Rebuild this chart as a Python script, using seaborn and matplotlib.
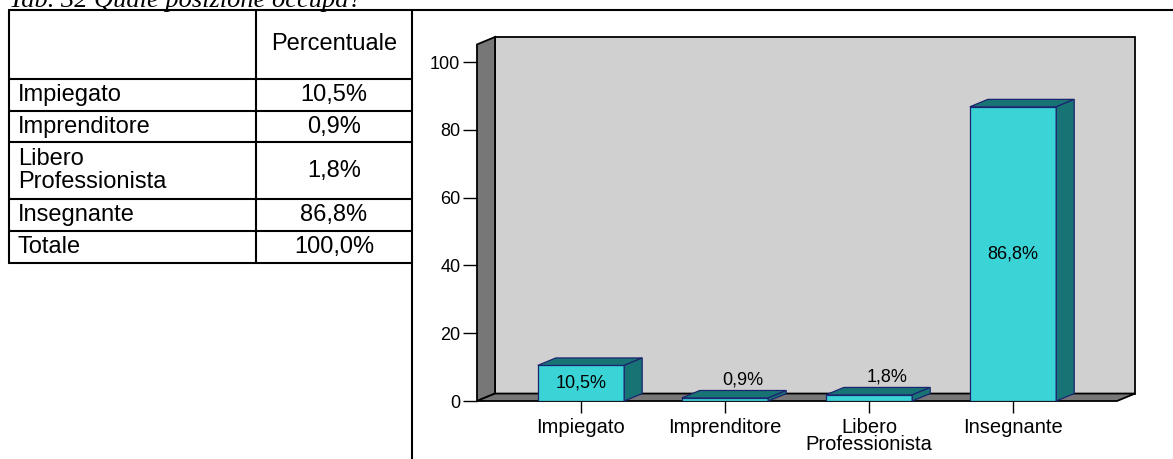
import matplotlib

matplotlib.use("Agg")
import matplotlib.pyplot as plt
from matplotlib.patches import Polygon, Rectangle
import seaborn as sns

# --- data ---
TITLE = "Tab. 32 Quale posizione occupa?"
HEADER = "Percentuale"
categories = ["Impiegato", "Imprenditore", "Libero\nProfessionista", "Insegnante"]
percentages = [10.5, 0.9, 1.8, 86.8]
total_label = "Totale"
y_ticks = [0, 20, 40, 60, 80, 100]

# --- colours ---
FRONT = "#3bd4d6"
SIDE = "#187474"
EDGE = "#1c2470"
BACK_WALL = "#d0d0d0"
WALL = "#777777"

FIG_W, FIG_H = 1173, 459


def fmt_pct(v):
    return f"{v:.1f}%".replace(".", ",")


def px_rect(left, top, right, bottom):
    return [left / FIG_W, 1 - bottom / FIG_H, (right - left) / FIG_W, (bottom - top) / FIG_H]


sns.set_style("white")
plt.rcParams["font.family"] = ["Liberation Sans", "DejaVu Sans"]
plt.rcParams["text.color"] = "black"
plt.rcParams["xtick.color"] = "black"
plt.rcParams["ytick.color"] = "black"
plt.rcParams["axes.labelcolor"] = "black"

fig = plt.figure(figsize=(FIG_W / 100, FIG_H / 100), dpi=100)

# ---------------- table (pixel coordinates) ----------------
tab = fig.add_axes([0, 0, 1, 1])
tab.set_xlim(0, FIG_W)
tab.set_ylim(FIG_H, 0)
tab.axis("off")

tab.text(9, 6.5, TITLE, family="Liberation Serif", style="italic", fontsize=19, va="baseline")

row_edges = [10, 79, 111, 142, 199, 231, 263]
col_edges = [9, 256, 412]
lw = 1.5
tab.plot([col_edges[0], FIG_W], [row_edges[0]] * 2, color="black", lw=lw)
for y in row_edges[1:]:
    tab.plot([col_edges[0], col_edges[2]], [y, y], color="black", lw=lw)
tab.plot([col_edges[0]] * 2, [row_edges[0], row_edges[-1]], color="black", lw=lw)
tab.plot([col_edges[1]] * 2, [row_edges[0], row_edges[-1]], color="black", lw=lw)
tab.plot([col_edges[2]] * 2, [row_edges[0], FIG_H], color="black", lw=lw)

val_x = (col_edges[1] + col_edges[2]) / 2
tab.text(val_x, (row_edges[0] + row_edges[1]) / 2, HEADER, fontsize=17, ha="center", va="center")
row_labels = categories + [total_label]
row_values = percentages + [round(sum(percentages), 1)]
for i, (lab, val) in enumerate(zip(row_labels, row_values)):
    yc = (row_edges[i + 1] + row_edges[i + 2]) / 2
    tab.text(18, yc, lab, fontsize=17, ha="left", va="center", linespacing=1.1)
    tab.text(val_x, yc, fmt_pct(val), fontsize=17, ha="center", va="center")

# ---------------- 3D-look bar chart ----------------
ax = fig.add_axes(px_rect(477, 37, 1135, 401))
XL, XR, YTOP = -0.722, 3.847, 107.4
DX, DY = 0.125, 2.2

sns.barplot(x=categories, y=percentages, color=FRONT, saturation=1, width=0.6,
            edgecolor=EDGE, linewidth=0.9, ax=ax, zorder=3)

ax.set_facecolor("none")
for s in ax.spines.values():
    s.set_visible(False)

# walls and floor
ax.add_patch(Rectangle((XL + DX, DY), XR - XL - DX, YTOP - DY, facecolor=BACK_WALL,
                       edgecolor="black", lw=1.3, zorder=0.1, clip_on=False))
ax.add_patch(Polygon([(XL, 0), (XL + DX, DY), (XL + DX, YTOP), (XL, YTOP - DY)],
                     facecolor=WALL, edgecolor="black", lw=1.3, zorder=0.2, clip_on=False))
ax.add_patch(Polygon([(XL, 0), (XR - DX, 0), (XR, DY), (XL + DX, DY)],
                     facecolor=WALL, edgecolor="black", lw=1.3, zorder=0.2, clip_on=False))

for bar, val in zip(ax.patches[:len(percentages)], percentages):
    x0 = bar.get_x()
    x1 = x0 + bar.get_width()
    h = bar.get_height()
    ax.add_patch(Polygon([(x0, h), (x0 + DX, h + DY), (x1 + DX, h + DY), (x1, h)],
                         facecolor=SIDE, edgecolor=EDGE, lw=0.9, zorder=3, clip_on=False))
    ax.add_patch(Polygon([(x1, 0), (x1 + DX, DY), (x1 + DX, h + DY), (x1, h)],
                         facecolor=SIDE, edgecolor=EDGE, lw=0.9, zorder=3, clip_on=False))
    xc = (x0 + x1) / 2
    if h > 6:
        ax.text(xc, h / 2, fmt_pct(val), fontsize=13, ha="center", va="center", zorder=4)
    else:
        ax.text(xc + DX, h + DY + 0.6, fmt_pct(val), fontsize=13, ha="center", va="bottom", zorder=4)

ax.set_xlim(XL, XR)
ax.set_ylim(0, YTOP)
ax.set_yticks(y_ticks)
ax.set_xticks(range(len(categories)))
ax.set_xticklabels(categories, fontsize=14.5, linespacing=0.85)
ax.tick_params(axis="y", left=True, length=10, width=1, color="black", pad=2, labelsize=13)
ax.tick_params(axis="x", bottom=True, length=8.5, width=1, color="black", pad=4)
ax.set_xlabel("")
ax.set_ylabel("")

fig.savefig("out.png", dpi=100)
